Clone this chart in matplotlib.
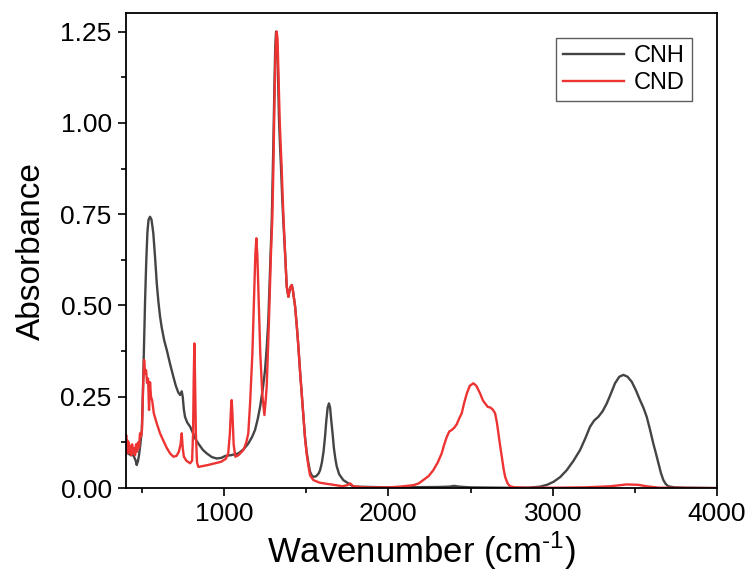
import matplotlib
matplotlib.use("Agg")
import matplotlib.pyplot as plt
from matplotlib.ticker import MultipleLocator

plt.rcParams['font.family'] = ['Liberation Sans', 'DejaVu Sans']
plt.rcParams['mathtext.fontset'] = 'custom'
plt.rcParams['mathtext.rm'] = 'Liberation Sans'

# CNH spectrum (wavenumber, absorbance)
cnh_wn = [400, 415, 433, 445, 452, 462, 468, 476, 482, 490, 499, 505, 512, 519, 526, 533,
          540, 549, 558, 569, 580, 590, 600, 610, 620, 635, 651, 671, 691, 706, 721,
          732, 742, 748, 755, 762, 775, 793, 811, 825, 843, 870, 894, 925, 955, 985,
          1006, 1040, 1087, 1120, 1147, 1170, 1188, 1205, 1219, 1235, 1249, 1260, 1269,
          1280, 1290, 1300, 1306, 1311, 1316, 1321, 1327, 1334, 1340, 1346, 1353, 1360,
          1371, 1381, 1391, 1398, 1405, 1412, 1419, 1432, 1442, 1452, 1462, 1472, 1482,
          1492, 1502, 1513, 1523, 1533, 1543, 1559, 1575, 1584, 1595, 1605, 1614, 1622,
          1630, 1638, 1645, 1652, 1660, 1668, 1677, 1685, 1700, 1725, 1787, 2000, 2300,
          2370, 2400, 2430, 2500, 2700, 2850, 2923, 2965, 3004, 3045, 3085, 3125, 3166,
          3197, 3227, 3252, 3277, 3303, 3329, 3355, 3379, 3405, 3430, 3455, 3481, 3506,
          3531, 3552, 3572, 3592, 3612, 3628, 3643, 3658, 3673, 3688, 3703, 3740, 3800,
          4000]
cnh_abs = [0.100, 0.095, 0.090, 0.092, 0.085, 0.075, 0.063, 0.075, 0.090, 0.120, 0.159,
           0.250, 0.380, 0.515, 0.620, 0.700, 0.735, 0.743, 0.735, 0.698, 0.630, 0.561,
           0.510, 0.470, 0.440, 0.405, 0.378, 0.340, 0.305, 0.280, 0.262, 0.255, 0.265,
           0.250, 0.215, 0.195, 0.180, 0.168, 0.150, 0.135, 0.122, 0.105, 0.095, 0.085,
           0.081, 0.083, 0.088, 0.090, 0.095, 0.107, 0.122, 0.140, 0.159, 0.190, 0.223,
           0.270, 0.323, 0.390, 0.460, 0.600, 0.734, 0.950, 1.100, 1.205, 1.250, 1.230,
           1.150, 1.010, 0.940, 0.880, 0.800, 0.734, 0.643, 0.552, 0.524, 0.540, 0.552,
           0.556, 0.540, 0.497, 0.445, 0.387, 0.320, 0.259, 0.200, 0.140, 0.100, 0.068,
           0.045, 0.035, 0.031, 0.032, 0.040, 0.049, 0.070, 0.100, 0.140, 0.185, 0.220,
           0.232, 0.220, 0.185, 0.150, 0.110, 0.080, 0.060, 0.038, 0.022, 0.004, 0.002,
           0.003, 0.004, 0.006, 0.004, 0.002, 0.001, 0.001, 0.004, 0.009, 0.017, 0.030,
           0.049, 0.074, 0.104, 0.135, 0.168, 0.185, 0.195, 0.210, 0.232, 0.260, 0.287,
           0.305, 0.310, 0.305, 0.291, 0.268, 0.241, 0.220, 0.195, 0.160, 0.122, 0.095,
           0.068, 0.042, 0.022, 0.011, 0.005, 0.002, 0.001, 0.000]

# CND spectrum (wavenumber, absorbance)
cnd_wn = [400, 404, 408, 412, 416, 420, 425, 430, 435, 440, 446, 452, 458, 464, 470,
          476, 482, 488, 494, 500, 507, 513, 519, 525, 531, 537, 543, 549, 555, 562,
          572, 590, 610, 630, 651, 671, 691, 710, 725, 735, 742, 748, 755, 770, 793,
          805, 811, 815, 819, 823, 828, 835, 843, 900, 981, 1010, 1025, 1035, 1042,
          1046, 1050, 1058, 1068, 1087, 1117, 1135, 1147, 1158, 1172, 1184, 1190, 1196,
          1202, 1208, 1220, 1232, 1245, 1252, 1259, 1273, 1285, 1293, 1300, 1306, 1312,
          1316, 1320, 1325, 1331, 1338, 1344, 1350, 1356, 1362, 1371, 1381, 1391, 1398,
          1405, 1412, 1419, 1432, 1442, 1452, 1462, 1472, 1482, 1492, 1502, 1513, 1523,
          1543, 1580, 1620, 1680, 1720, 1750, 1767, 1785, 1850, 2000, 2071, 2110, 2152,
          2185, 2212, 2245, 2273, 2300, 2324, 2340, 2355, 2370, 2385, 2400, 2416, 2430,
          2446, 2462, 2477, 2495, 2517, 2535, 2558, 2575, 2588, 2605, 2619, 2635, 2649,
          2660, 2669, 2680, 2690, 2700, 2710, 2725, 2740, 2770, 2850, 3000, 3200, 3350,
          3450, 3520, 3570, 3650, 4000]
cnd_abs = [0.113, 0.145, 0.100, 0.130, 0.095, 0.125, 0.100, 0.115, 0.090, 0.120, 0.095,
           0.110, 0.090, 0.120, 0.100, 0.125, 0.110, 0.150, 0.140, 0.159, 0.277, 0.351,
           0.314, 0.323, 0.288, 0.300, 0.214, 0.290, 0.250, 0.240, 0.205, 0.177, 0.150,
           0.130, 0.110, 0.095, 0.086, 0.088, 0.100, 0.120, 0.150, 0.110, 0.086, 0.075,
           0.068, 0.075, 0.150, 0.300, 0.396, 0.300, 0.150, 0.070, 0.058, 0.063, 0.072,
           0.080, 0.095, 0.150, 0.220, 0.241, 0.210, 0.120, 0.086, 0.090, 0.104, 0.125,
           0.150, 0.232, 0.369, 0.552, 0.640, 0.684, 0.640, 0.552, 0.369, 0.259, 0.200,
           0.235, 0.277, 0.460, 0.643, 0.734, 0.880, 1.050, 1.180, 1.230, 1.250, 1.230,
           1.130, 1.010, 0.940, 0.880, 0.800, 0.734, 0.643, 0.552, 0.524, 0.540, 0.552,
           0.556, 0.540, 0.497, 0.445, 0.387, 0.320, 0.259, 0.200, 0.140, 0.095, 0.060,
           0.035, 0.022, 0.015, 0.012, 0.008, 0.005, 0.008, 0.013, 0.005, 0.002, 0.002,
           0.004, 0.006, 0.008, 0.013, 0.022, 0.033, 0.049, 0.070, 0.095, 0.120, 0.140,
           0.155, 0.159, 0.165, 0.175, 0.190, 0.205, 0.235, 0.259, 0.280, 0.287, 0.280,
           0.259, 0.240, 0.232, 0.222, 0.221, 0.215, 0.205, 0.180, 0.150, 0.115, 0.086,
           0.055, 0.031, 0.013, 0.005, 0.002, 0.001, 0.001, 0.002, 0.005, 0.010, 0.009,
           0.005, 0.001, 0.000]

series_labels = ['CNH', 'CND']
x_ticks = [1000, 2000, 3000, 4000]
y_ticks = [0.00, 0.25, 0.50, 0.75, 1.00, 1.25]

fig = plt.figure(figsize=(7.54, 5.79), dpi=100)
ax = fig.add_axes([0.1665, 0.157, 0.7845, 0.82])

ax.plot(cnh_wn, cnh_abs, color='#444444', lw=1.7, label=series_labels[0])
ax.plot(cnd_wn, cnd_abs, color='#ee3333', lw=1.7, label=series_labels[1])

ax.set_xlim(400, 4000)
ax.set_ylim(0, 1.30)
ax.set_xticks(x_ticks)
ax.set_yticks(y_ticks)
ax.set_yticklabels([f'{v:.2f}' for v in y_ticks])
ax.xaxis.set_minor_locator(MultipleLocator(500))
ax.yaxis.set_minor_locator(MultipleLocator(0.125))
ax.tick_params(which='major', direction='out', length=6, width=1.2, labelsize=19,
               top=False, right=False, pad=4)
ax.tick_params(which='minor', direction='out', length=3.5, width=1.2, top=False, right=False)
for s in ax.spines.values():
    s.set_linewidth(1.3)

ax.set_xlabel('Wavenumber (cm$^{\\text{-1}}$)', fontsize=25, labelpad=3)
ax.set_ylabel('Absorbance', fontsize=24, labelpad=10)

leg = ax.legend(loc='upper right', bbox_to_anchor=(0.977, 0.972), fontsize=17,
                frameon=True, fancybox=False, edgecolor='#333333',
                handlelength=2.6, handletextpad=0.4, borderpad=0.3, labelspacing=0.2)
leg.get_frame().set_linewidth(1.0)

fig.savefig('out.png', dpi=100)
